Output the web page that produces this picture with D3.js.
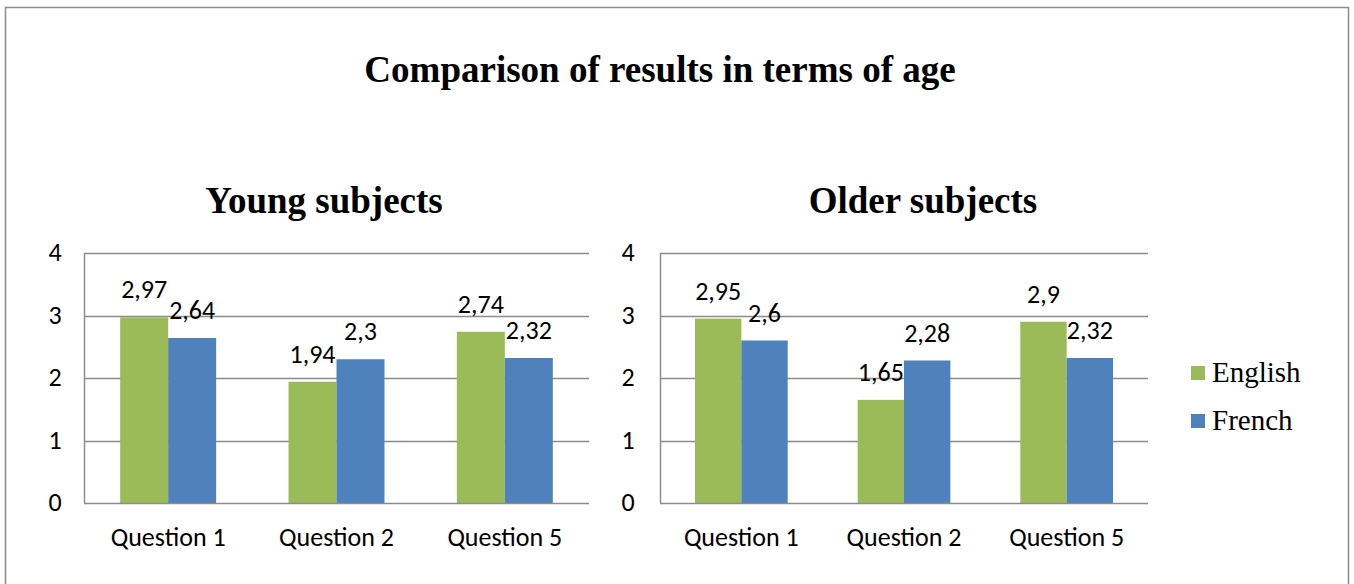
<!DOCTYPE html>
<html>
<head>
<meta charset="utf-8">
<script src="https://cdnjs.cloudflare.com/ajax/libs/d3/7.8.5/d3.min.js"></script>
<style>
  body { margin: 0; background: #fff; }
</style>
</head>
<body>
<div id="chart"></div>
<script>
// data
const categories = ["Question 1", "Question 2", "Question 5"];
const seriesNames = ["English", "French"];
const youngEnglish = [2.97, 1.94, 2.74];
const youngFrench = [2.64, 2.3, 2.32];
const olderEnglish = [2.95, 1.65, 2.9];
const olderFrench = [2.6, 2.28, 2.32];
const yTicks = [0, 1, 2, 3, 4];
const colors = ["#9BBB59", "#4F81BD"];

const W = 1354, H = 584;
const svg = d3.select("#chart").append("svg")
  .attr("width", W).attr("height", H);

const serif = "'Liberation Serif', 'Times New Roman', serif";
const sans = "Carlito, Calibri, 'Open Sans', sans-serif";

// outer frame
svg.append("rect")
  .attr("x", 5.5).attr("y", 7.5)
  .attr("width", 1343).attr("height", 590)
  .attr("fill", "none").attr("stroke", "#8c8c8c").attr("stroke-width", 1.5);

svg.append("text")
  .attr("x", 660).attr("y", 82)
  .attr("text-anchor", "middle")
  .style("font-family", serif).style("font-weight", "bold").style("font-size", "37px")
  .text("Comparison of results in terms of age");

function fmt(v) { return String(v).replace(".", ","); }

function drawPanel(title, titleX, left, right, english, french, tickX) {
  const y = d3.scaleLinear().domain([0, 4]).range([503, 253]);
  const x0 = d3.scaleBand().domain(categories).range([left, right]).paddingInner(0).paddingOuter(0);
  const groupW = x0.bandwidth() * 0.57;
  const x1 = d3.scaleBand().domain(seriesNames).range([0, groupW]);

  const g = svg.append("g");

  g.append("text")
    .attr("x", titleX).attr("y", 213)
    .attr("text-anchor", "middle")
    .style("font-family", serif).style("font-weight", "bold").style("font-size", "37px")
    .text(title);

  // gridlines
  g.selectAll("line.grid").data(yTicks.slice(1)).enter().append("line")
    .attr("class", "grid")
    .attr("x1", left).attr("x2", right)
    .attr("y1", d => Math.round(y(d)) + 0.5).attr("y2", d => Math.round(y(d)) + 0.5)
    .attr("stroke", "#8c8c8c").attr("stroke-width", 1.5);

  // y tick labels
  g.selectAll("text.ytick").data(yTicks).enter().append("text")
    .attr("class", "ytick")
    .attr("x", tickX).attr("y", d => y(d) + 8)
    .attr("text-anchor", "middle")
    .style("font-family", sans).style("font-size", "26px")
    .text(d => d);

  const rows = categories.map((c, i) => ({ cat: c, vals: [english[i], french[i]] }));

  const grp = g.selectAll("g.cat").data(rows).enter().append("g")
    .attr("transform", d => `translate(${x0(d.cat) + (x0.bandwidth() - groupW) / 2},0)`);

  grp.selectAll("rect").data(d => d.vals.map((v, k) => ({ name: seriesNames[k], v, k })))
    .enter().append("rect")
    .attr("x", d => x1(d.name))
    .attr("width", x1.bandwidth())
    .attr("y", d => y(d.v))
    .attr("height", d => y(0) - y(d.v))
    .attr("fill", d => colors[d.k]);

  grp.selectAll("text").data(d => d.vals.map((v, k) => ({ name: seriesNames[k], v, k })))
    .enter().append("text")
    .attr("x", d => x1(d.name) + x1.bandwidth() / 2)
    .attr("y", d => y(d.v) - 19)
    .attr("text-anchor", "middle")
    .style("font-family", sans).style("font-size", "26px")
    .text(d => fmt(d.v));

  // axes lines
  g.append("line")
    .attr("x1", left + 0.5).attr("x2", left + 0.5)
    .attr("y1", y(4)).attr("y2", y(0))
    .attr("stroke", "#8c8c8c").attr("stroke-width", 1.5);
  g.append("line")
    .attr("x1", left).attr("x2", right)
    .attr("y1", y(0) + 0.5).attr("y2", y(0) + 0.5)
    .attr("stroke", "#8c8c8c").attr("stroke-width", 1.5);

  // category labels
  g.selectAll("text.xtick").data(categories).enter().append("text")
    .attr("class", "xtick")
    .attr("x", d => x0(d) + x0.bandwidth() / 2)
    .attr("y", 546)
    .attr("text-anchor", "middle")
    .style("font-family", sans).style("font-size", "26px")
    .text(d => d);
}

drawPanel("Young subjects", 324, 84, 589, youngEnglish, youngFrench, 55);
drawPanel("Older subjects", 923, 660, 1148, olderEnglish, olderFrench, 628);

// legend
const legend = svg.append("g");
seriesNames.forEach((name, i) => {
  const ly = 366 + i * 48;
  legend.append("rect")
    .attr("x", 1191).attr("y", ly).attr("width", 14).attr("height", 14)
    .attr("fill", colors[i]);
  legend.append("text")
    .attr("x", 1212).attr("y", ly + 16)
    .style("font-family", serif).style("font-size", "29px")
    .text(name);
});
</script>
</body>
</html>
